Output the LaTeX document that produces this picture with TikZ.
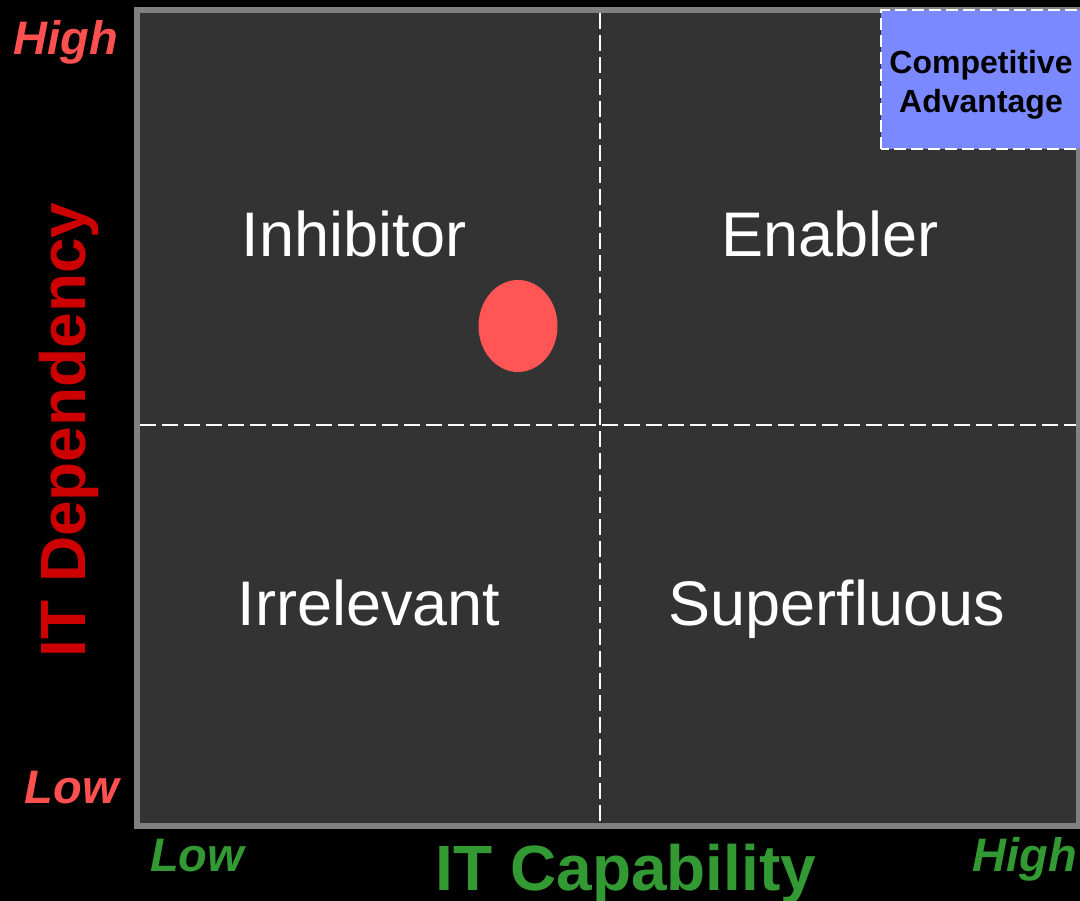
\documentclass[tikz,border=0pt]{standalone}
\usepackage{fontspec}
\setmainfont{Liberation Sans}
\usetikzlibrary{shapes.geometric}
\definecolor{panelgrey}{HTML}{333333}
\definecolor{rimgrey}{HTML}{808080}
\definecolor{deplabel}{HTML}{CC0000}
\definecolor{levelred}{HTML}{FF5050}
\definecolor{capgreen}{HTML}{339933}
\definecolor{advblue}{HTML}{7A89FF}
\definecolor{dotred}{HTML}{FF5555}
\begin{document}
\begin{tikzpicture}[x=1pt,y=1pt,
  quadrant/.style={text=white,font=\fontsize{63}{76}\selectfont,anchor=base,inner sep=0pt},
  levelmark/.style={font=\fontsize{47}{56}\selectfont\bfseries\itshape,inner sep=0pt},
  axistitle/.style={font=\fontsize{64}{76}\selectfont\bfseries,anchor=base,inner sep=0pt},
  splitline/.style={white,line width=2pt,dash pattern=on 16pt off 6pt}]
\useasboundingbox (0,0) rectangle (1080,901);
\fill[black] (0,0) rectangle (1080,901);

% matrix panel
\draw[line width=6pt,draw=rimgrey,fill=panelgrey] (137,75) rectangle (1079,891);
\coordinate (MidTop) at (600,888);
\coordinate (MidBottom) at (600,78);
\coordinate (MidLeft) at (140,476);
\coordinate (MidRight) at (1076,476);
\draw[splitline] (MidTop) -- (MidBottom);
\draw[splitline] (MidLeft) -- (MidRight);

% corner box
\draw[white,line width=2pt,dash pattern=on 12pt off 5pt,fill=advblue] (881,752) rectangle (1086,891);
\node (Advantage) [align=center,inner sep=0pt,font=\fontsize{32}{39}\selectfont\bfseries] at (981,816) {Competitive\\Advantage};

\node (Inhibitor) [quadrant] at (354,644) {Inhibitor};
\node (Enabler) [quadrant] at (830,644) {Enabler};
\node (Irrelevant) [quadrant] at (369,275) {Irrelevant};
\node (Superfluous) [quadrant] at (837,275) {Superfluous};

\node (Position) [ellipse,fill=dotred,minimum width=79pt,minimum height=92pt,inner sep=0pt] at (518,575) {};

% axes
\node (DepHigh) [levelmark,text=levelred,anchor=base east] at (118,846) {High};
\node (DepLow) [levelmark,text=levelred,anchor=base east] at (119,97) {Low};
\node (Dependency) [axistitle,text=deplabel,rotate=90] at (85,471) {IT Dependency};

\node (CapLow) [levelmark,text=capgreen,anchor=base west] at (150,29) {Low};
\node (CapHigh) [levelmark,text=capgreen,anchor=base east] at (1077,29) {High};
\node (Capability) [axistitle,text=capgreen] at (626,10) {IT Capability};
\end{tikzpicture}
\end{document}
